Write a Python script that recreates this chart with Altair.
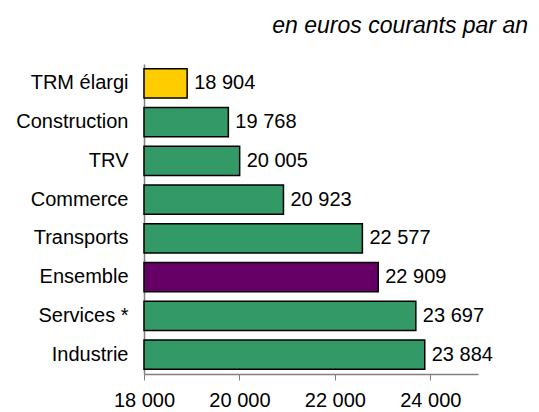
import altair as alt
import pandas as pd

categories = ["TRM élargi", "Construction", "TRV", "Commerce", "Transports", "Ensemble", "Services *", "Industrie"]
values = [18904, 19768, 20005, 20923, 22577, 22909, 23697, 23884]
groups = ["TRM", "Secteur", "Secteur", "Secteur", "Secteur", "Ensemble", "Secteur", "Secteur"]
x_ticks = [18000, 20000, 22000, 24000]
x_domain = [18000, 25000]
title_text = ["en euros courants par an"]

df = pd.DataFrame({
    "cat": categories,
    "val": values,
    "grp": groups,
    "label": [f"{v:,}".replace(",", " ") for v in values],
})

FONT = "Liberation Sans"
FS = 20

y_enc = alt.Y("cat:N", sort=categories, title=None,
              scale=alt.Scale(paddingInner=0.25, paddingOuter=0.125),
              axis=alt.Axis(labelFont=FONT, labelFontSize=FS, labelColor="#000000",
                            labelPadding=16, ticks=False, domainColor="#808080",
                            domainWidth=1.5, labelLimit=300))
x_scale = alt.Scale(domain=x_domain, nice=False, zero=False)

bars = alt.Chart(df).mark_bar(stroke="#000000", strokeWidth=1.5).encode(
    y=y_enc,
    x=alt.X("val:Q", scale=x_scale, title=None,
            axis=alt.Axis(values=x_ticks, labelFont=FONT, labelFontSize=FS,
                          labelColor="#000000", grid=False, tickSize=6,
                          tickColor="#808080", domainColor="#808080", domainWidth=1.5,
                          labelPadding=10, labelFlush=False, labelOverlap=False,
                          labelExpr="replace(format(datum.value, ','), /,/g, ' ')")),
    x2=alt.datum(18000),
    color=alt.Color("grp:N", legend=None,
                    scale=alt.Scale(domain=["TRM", "Secteur", "Ensemble"],
                                    range=["#FFCC00", "#339966", "#660066"])),
)

text = alt.Chart(df).mark_text(align="left", baseline="middle", dx=7,
                               font=FONT, fontSize=FS, color="#000000").encode(
    y=alt.Y("cat:N", sort=categories),
    x=alt.X("val:Q", scale=x_scale),
    text="label:N",
)

title = alt.Chart(pd.DataFrame({"t": title_text})).mark_text(
    align="right", baseline="alphabetic", font=FONT, fontSize=23,
    fontStyle="italic", color="#000000").encode(
    text="t:N", x=alt.value(384), y=alt.value(-31))

chart = alt.layer(bars, text, title).properties(
    width=334, height=310,
    autosize=alt.AutoSizeParams(type="none"),
    padding={"left": 136, "top": 56, "right": 53, "bottom": 36},
).configure_view(stroke=None)

chart.save("out.html", embed_options={"renderer": "svg", "actions": False})
